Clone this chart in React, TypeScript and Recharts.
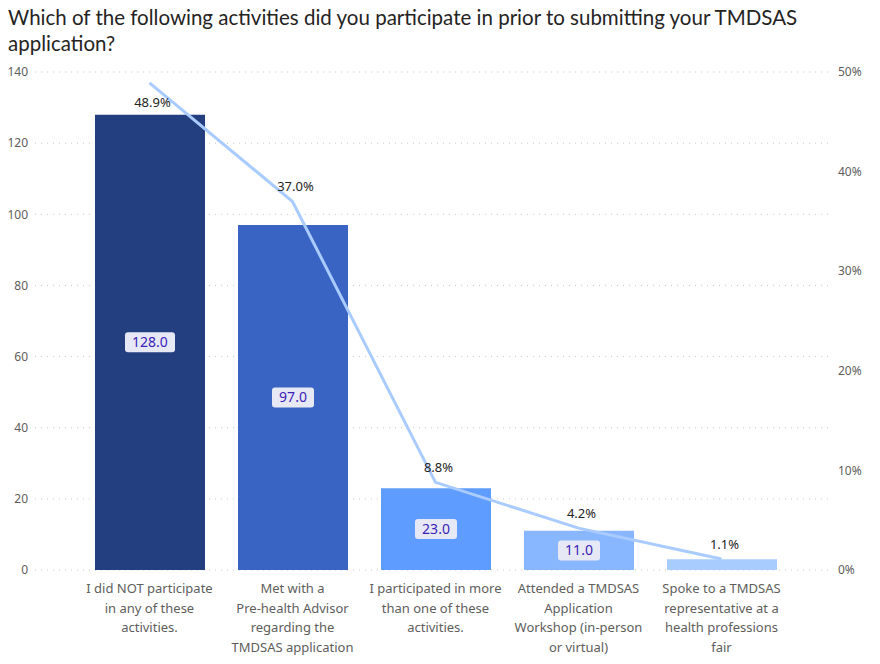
import { ComposedChart, Bar, Line, XAxis, YAxis, CartesianGrid, Cell, LabelList } from "recharts";

const categories = [
  "I did NOT participate in any of these activities.",
  "Met with a Pre-health Advisor regarding the TMDSAS application",
  "I participated in more than one of these activities.",
  "Attended a TMDSAS Application Workshop (in-person or virtual)",
  "Spoke to a TMDSAS representative at a health professions fair",
];
const tickLines = [
  ["I did NOT participate", "in any of these", "activities."],
  ["Met with a", "Pre-health Advisor", "regarding the", "TMDSAS application"],
  ["I participated in more", "than one of these", "activities."],
  ["Attended a TMDSAS", "Application", "Workshop (in-person", "or virtual)"],
  ["Spoke to a TMDSAS", "representative at a", "health professions", "fair"],
];
const counts = [128, 97, 23, 11, 3];
const percents = [48.9, 37.0, 8.8, 4.2, 1.1];
const barColors = ["#243f80", "#3a64c3", "#5f9cff", "#88b6ff", "#a9ccff"];
const leftTicks = [0, 20, 40, 60, 80, 100, 120, 140];
const rightTicks = [0, 10, 20, 30, 40, 50];

const data = categories.map((c, i) => ({ name: c, count: counts[i], pct: percents[i], idx: i }));

const FONT = "'Segoe UI', 'Noto Sans', 'Open Sans', sans-serif";
const TITLE_FONT = "Lato, 'Noto Sans', sans-serif";

function XTick(props: any) {
  const { x, y, index } = props;
  const lines = tickLines[index] || [];
  return (
    <g>
      {lines.map((l, k) => (
        <text key={k} x={x} y={y + 15 + k * 19.5} textAnchor="middle" fill="#605e5c" fontSize={13} fontFamily={FONT}>
          {l}
        </text>
      ))}
    </g>
  );
}

function CountLabel(props: any) {
  const { x, y, width, height, value } = props;
  if (value < 5) return null;
  const cx = x + width / 2;
  const cy = y + height / 2;
  const txt = Number(value).toFixed(1);
  const w = txt.length * 8 + 10;
  return (
    <g>
      <rect x={cx - w / 2} y={cy - 10} width={w} height={20} rx={3} fill="#e6e9f5" />
      <text x={cx} y={cy + 5} textAnchor="middle" fill="#3b22b8" fontSize={14} fontFamily={FONT}>
        {txt}
      </text>
    </g>
  );
}

function PctLabel(props: any) {
  const { x, y, value } = props;
  const dy = y < 100 ? 24 : -10;
  return (
    <text x={x + 3} y={y + dy} textAnchor="middle" fill="#252423" fontSize={13} fontFamily={FONT}>
      {Number(value).toFixed(1)}%
    </text>
  );
}

export default function App() {
  return (
    <div style={{ position: "absolute", left: 0, top: 0, width: 880, height: 664, background: "#fff", fontFamily: FONT }}>
      <div style={{ position: "absolute", left: 8, top: 4, fontSize: 20.5, lineHeight: "26px", color: "#252423", fontFamily: TITLE_FONT }}>
        Which of the following activities did you participate in prior to submitting your TMDSAS
        <br />
        application?
      </div>
      <ComposedChart width={880} height={664} data={data} margin={{ top: 72, right: 0, bottom: 4, left: 0 }}>
        <CartesianGrid vertical={false} stroke="#c8c6c4" strokeDasharray="1 5" yAxisId="left" />
        <XAxis
          dataKey="name"
          interval={0}
          height={90}
          axisLine={false}
          tickLine={false}
          tick={<XTick />}
          padding={{ left: 43, right: 37 }}
        />
        <YAxis
          yAxisId="left"
          domain={[0, 140]}
          ticks={leftTicks}
          width={35}
          axisLine={false}
          tickLine={false}
          tickSize={0}
          tickMargin={7}
          tick={{ fill: "#605e5c", fontSize: 12, fontFamily: FONT }}
        />
        <YAxis
          yAxisId="right"
          orientation="right"
          domain={[0, 50]}
          ticks={rightTicks}
          tickFormatter={(v) => `${v}%`}
          width={50}
          axisLine={false}
          tickLine={false}
          tickSize={0}
          tickMargin={8}
          tick={{ fill: "#605e5c", fontSize: 12, fontFamily: FONT }}
        />
        <Bar yAxisId="left" dataKey="count" barSize={110} isAnimationActive={false}>
          {data.map((d) => (
            <Cell key={d.name} fill={barColors[d.idx]} />
          ))}
          <LabelList dataKey="count" content={<CountLabel />} />
        </Bar>
        <Line
          yAxisId="right"
          dataKey="pct"
          stroke="#a9cbff"
          strokeWidth={3}
          dot={false}
          activeDot={false}
          isAnimationActive={false}
        >
          <LabelList dataKey="pct" content={<PctLabel />} />
        </Line>
      </ComposedChart>
    </div>
  );
}
